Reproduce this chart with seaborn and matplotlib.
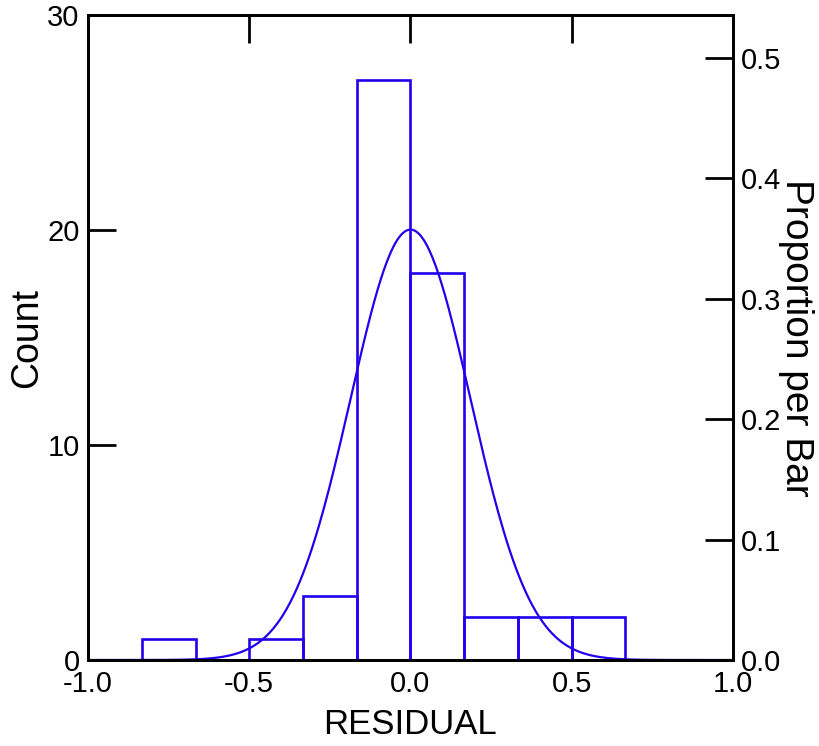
import numpy as np
import pandas as pd
import matplotlib
matplotlib.use("Agg")
import matplotlib.pyplot as plt
import seaborn as sns

# ---- data ----
bin_edges = [-1.0, -5/6, -4/6, -3/6, -2/6, -1/6, 0.0, 1/6, 2/6, 3/6, 4/6, 5/6, 1.0]
bin_counts = [0, 1, 0, 1, 3, 27, 18, 2, 2, 2, 0, 0]
fit_mean = 0.0
fit_sd = 0.186
x_ticks = [-1.0, -0.5, 0.0, 0.5, 1.0]
x_tick_labels = ["-1.0", "-0.5", "0.0", "0.5", "1.0"]
count_ticks = [0, 10, 20, 30]
prop_ticks = [0.0, 0.1, 0.2, 0.3, 0.4, 0.5]
prop_tick_labels = ["0.0", "0.1", "0.2", "0.3", "0.4", "0.5"]

blue = "#2200EE"

sns.set_style("white")
plt.rcParams["font.family"] = ["Liberation Sans", "DejaVu Sans"]
plt.rcParams["text.color"] = "black"
plt.rcParams["axes.labelcolor"] = "black"

centers = [(bin_edges[i] + bin_edges[i + 1]) / 2 for i in range(len(bin_counts))]
df = pd.DataFrame({"RESIDUAL": centers, "w": bin_counts})
n_total = sum(bin_counts)
bw = bin_edges[1] - bin_edges[0]

fig = plt.figure(figsize=(8.19, 7.46), dpi=100)
ax = fig.add_axes([88/819, 86/746, 645/819, 645/746])

sns.histplot(data=df, x="RESIDUAL", weights="w", bins=bin_edges, fill=False,
             color=blue, linewidth=1.9, ax=ax)

xs = np.linspace(-1, 1, 400)
ys = n_total * bw * np.exp(-0.5 * ((xs - fit_mean) / fit_sd) ** 2) / (fit_sd * np.sqrt(2 * np.pi))
sns.lineplot(x=xs, y=ys, color=blue, linewidth=1.6, ax=ax)

ax.set_xlim(-1, 1)
ax.set_ylim(0, 30)
ax.set_xticks(x_ticks)
ax.set_xticklabels(x_tick_labels)
ax.set_yticks(count_ticks)
ax.tick_params(axis="both", direction="in", length=20, width=2, labelsize=21,
               colors="black", pad=6)
ax.tick_params(axis="x", top=False, pad=7)
for s in ax.spines.values():
    s.set_color("black")
    s.set_linewidth(2)
ax.set_xlabel("RESIDUAL", fontsize=25, color="black")
ax.set_ylabel("Count", fontsize=27, color="black")
ax.xaxis.set_label_coords(0.5, -0.075)
ax.yaxis.set_label_coords(-0.066, 0.5)

ax2 = ax.twinx()
ax2.set_ylim(0, 30 / n_total)
ax2.set_yticks(prop_ticks)
ax2.set_yticklabels(prop_tick_labels)
ax2.tick_params(axis="y", direction="in", length=20, width=2, labelsize=21,
                colors="black", pad=6)
for s in ax2.spines.values():
    s.set_color("black")
    s.set_linewidth(2)
ax2.set_ylabel("Proportion per Bar", fontsize=28, rotation=270, va="bottom",
               color="black")
ax2.yaxis.set_label_coords(1.07, 0.5)

# top ticks only at interior positions
sec = ax.secondary_xaxis("top")
sec.set_xticks([-0.5, 0.0, 0.5])
sec.set_xticklabels([])
sec.tick_params(direction="in", length=20, width=2, colors="black")
sec.spines["top"].set_linewidth(2)
sec.spines["top"].set_color("black")

fig.savefig("out.png", dpi=100, facecolor="white")
